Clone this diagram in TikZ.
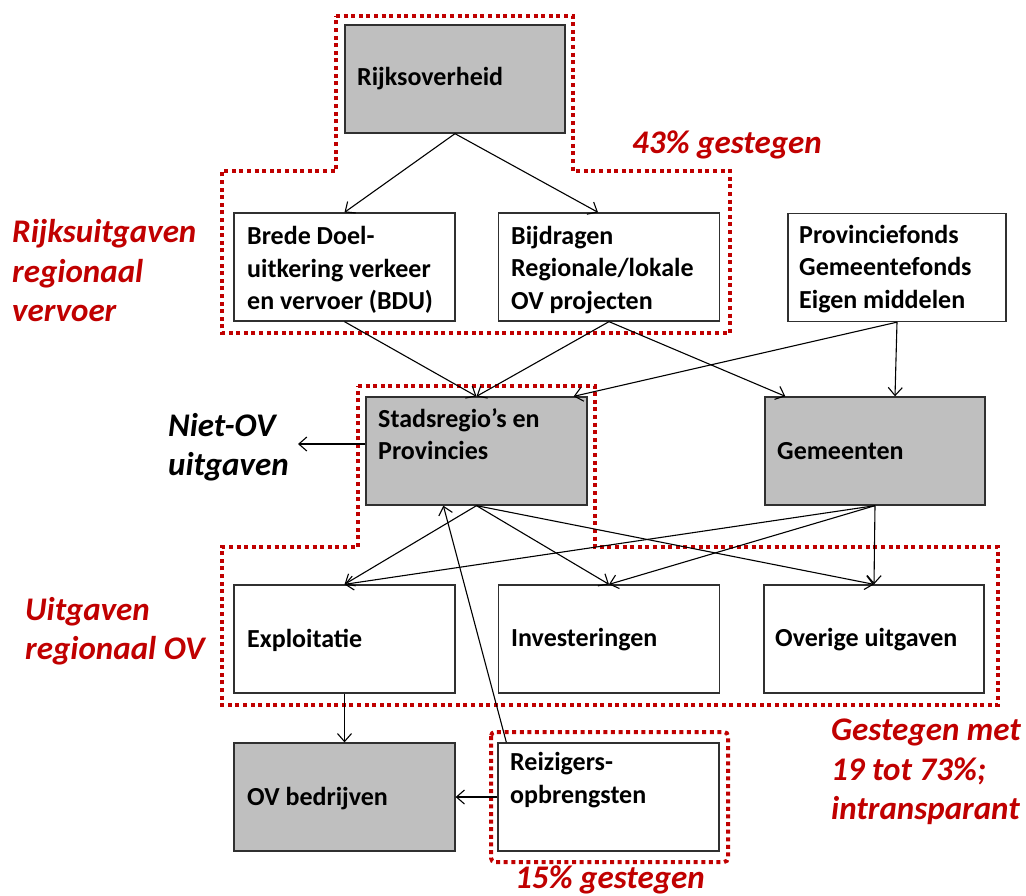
\documentclass[tikz,border=0pt]{standalone}
\usepackage{fontspec}
\setmainfont{Carlito}
\usetikzlibrary{arrows.meta,calc}
\definecolor{dred}{HTML}{C00000}
\definecolor{boxgray}{HTML}{BFBFBF}
\definecolor{edge}{HTML}{303030}
\tikzset{
  box/.style={draw=edge,line width=1.3pt,minimum width=221pt,minimum height=108pt,inner sep=0pt},
  graybox/.style={box,fill=boxgray},
  whitebox/.style={box,fill=white},
  boxtext/.style={anchor=west,align=left,inner sep=0pt,font=\fontsize{26}{32.5}\selectfont\bfseries},
  redlabel/.style={align=left,inner sep=0pt,text=dred,font=\fontsize{33}{39.5}\selectfont\bfseries\itshape},
  reddots/.style={draw=dred,line width=4pt,dash pattern=on 4pt off 3.6pt},
  conn/.style={draw=black,line width=1.1pt,-{Straight Barb[length=8pt,width=14pt,line width=1.1pt]}}
}
\begin{document}
\begin{tikzpicture}[x=1pt,y=-1pt]
\useasboundingbox (0,0) rectangle (1026,895);
% red dotted outlines
\draw[reddots] (336,16) -- (573,16) -- (573,171) -- (730,171) -- (730,333) -- (222,333) -- (222,171) -- (336,171) -- cycle;
\draw[reddots] (358,386) -- (595,386) -- (595,547) -- (998,547) -- (998,705) -- (222,705) -- (222,547) -- (358,547) -- cycle;
\draw[reddots,rounded corners=4pt] (491,732) rectangle (728,862);
% boxes
\node[graybox,minimum width=220pt] (rijk) at (455,79) {};
\node[whitebox] (brede) at (344.5,267) {};
\node[whitebox] (bijd) at (609,267) {};
\node[whitebox,minimum width=218pt] (prov) at (897,267.5) {};
\node[graybox] (stad) at (476.5,451) {};
\node[graybox,minimum width=220pt] (gem) at (875,451) {};
\node[whitebox] (expl) at (344.5,639) {};
\node[whitebox] (inv) at (609,639) {};
\node[whitebox,minimum width=220pt] (over) at (874,639) {};
\node[graybox] (ovb) at (344.5,797) {};
\node[whitebox] (reiz) at (608.5,797) {};
% box texts
\node[boxtext] (trijk) at (357,79) {Rijksoverheid};
\node[boxtext] (tbrede) at (247,270) {Brede Doel-\\uitkering verkeer\\en vervoer (BDU)};
\node[boxtext] (tbijd) at (511,270) {Bijdragen\\Regionale/lokale\\OV projecten};
\node[boxtext] (tprov) at (799,269) {Provinciefonds\\Gemeentefonds\\Eigen middelen};
\node[boxtext] (tstad) at (378,434) {Stadsregio’s en\\Provincies};
\node[boxtext] (tgem) at (777,451) {Gemeenten};
\node[boxtext] (texpl) at (247,640) {Exploitatie};
\node[boxtext] (tinv) at (511,640) {Investeringen};
\node[boxtext] (tover) at (775,640) {Overige uitgaven};
\node[boxtext] (tovb) at (247,799) {OV bedrijven};
\node[boxtext] (treiz) at (510,780) {Reizigers-\\opbrengsten};
% labels
\node[redlabel,anchor=west] (l43) at (632,145) {43\% gestegen};
\node[redlabel,anchor=west] (lrijk) at (12,271) {Rijksuitgaven\\regionaal\\vervoer};
\node[redlabel,anchor=west,text=black] (lniet) at (168,447) {Niet-OV\\uitgaven};
\node[redlabel,anchor=west] (luitg) at (25,631) {Uitgaven\\regionaal OV};
\node[redlabel,anchor=west] (lgest) at (831,772) {Gestegen met\\19 tot 73\%;\\intransparant};
\node[redlabel,anchor=west] (l15) at (515,880) {15\% gestegen};
\coordinate (nietov) at (298,444);
% connectors
\draw[conn] (rijk.south) -- (brede.north);
\draw[conn] (rijk.south) -- ($(bijd.north)+(-11,0)$);
\draw[conn] (brede.south) -- (stad.north);
\draw[conn] (bijd.south) -- (stad.north);
\draw[conn] (bijd.south) -- ($(gem.north west)+(21,0)$);
\draw[conn] (prov.south) -- ($(stad.north east)+(-14,0)$);
\draw[conn] (prov.south) -- ($(gem.north)+(20,0)$);
\draw[conn] ($(stad.west)+(0,-7)$) -- (nietov);
\draw[conn] (stad.south) -- (expl.north);
\draw[conn] (stad.south) -- (inv.north);
\draw[conn] (stad.south) -- (over.north);
\draw[conn] (gem.south) -- (expl.north);
\draw[conn] (gem.south) -- (inv.north);
\draw[conn] (gem.south) -- (over.north);
\draw[conn] (expl.south) -- (ovb.north);
\draw[conn] (reiz.west) -- (ovb.east);
\draw[conn] ($(reiz.north west)+(9,0)$) -- ($(stad.south west)+(78,0)$);
\end{tikzpicture}
\end{document}
